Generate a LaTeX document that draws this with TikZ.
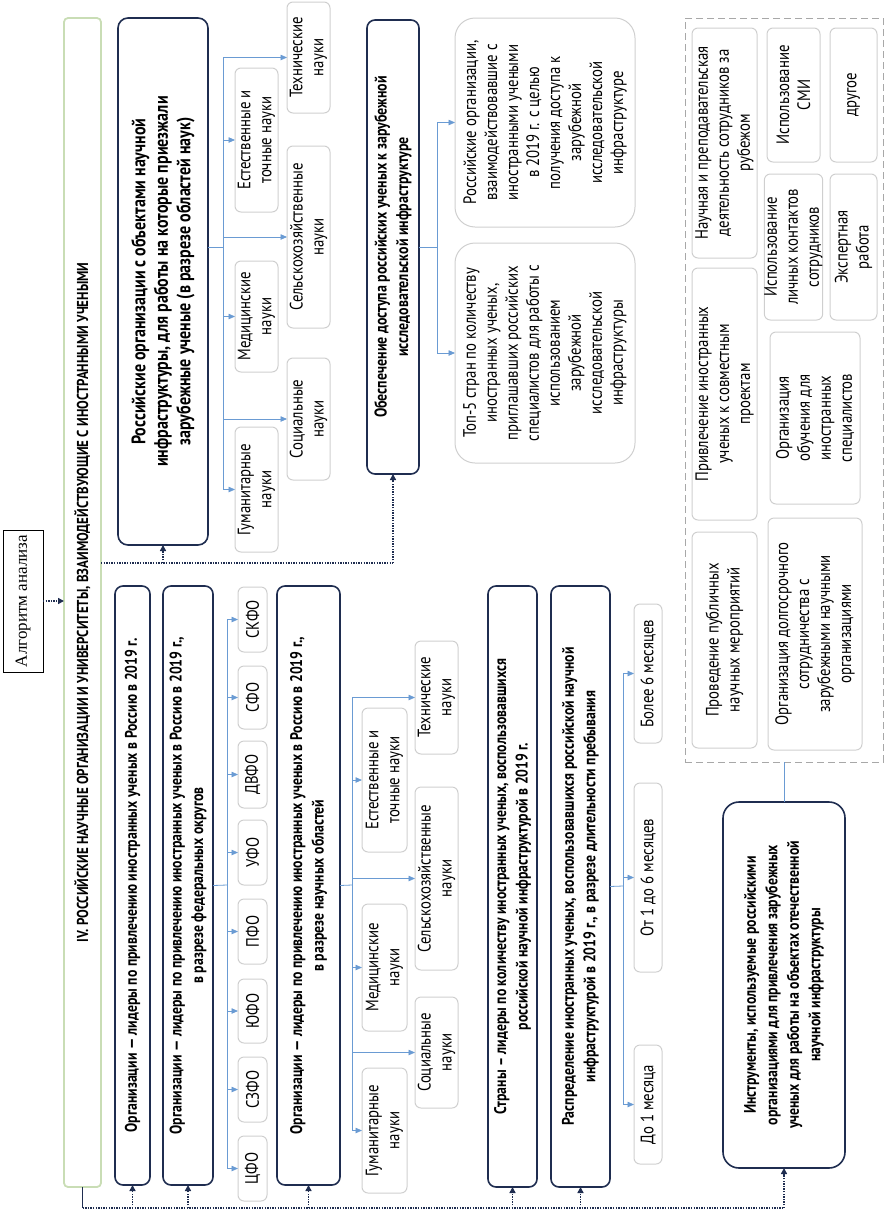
\documentclass[tikz,border=0pt]{standalone}
\usepackage{fontspec}
\setmainfont{PT Sans}[FakeStretch=0.82]
\newfontfamily\algfont{Liberation Serif}
\usetikzlibrary{arrows.meta}
\definecolor{navy}{HTML}{1F2D50}
\definecolor{treeblue}{HTML}{6A9BD3}
\definecolor{boxgray}{HTML}{CFCFCF}
\definecolor{bandgreen}{HTML}{C9DDB5}
\definecolor{dashgray}{HTML}{A8A8A8}
\newcommand\mkbox[7]{%
  \pgfmathsetmacro\cx{(#3+#4)/2}\pgfmathsetmacro\cy{(#5+#6)/2}%
  \pgfmathsetmacro\wx{#4-#3}\pgfmathsetmacro\hy{#6-#5}%
  \node[#2, minimum width=\hy pt, minimum height=\wx pt] (#1) at (\cx,\cy) {#7};}
\begin{document}
\begin{tikzpicture}[x=1pt,y=-1pt,
  every node/.style={inner sep=0pt, outer sep=0pt},
  rbox/.style={rotate=90, align=center, font=\fontsize{18}{21}\selectfont},
  navybox/.style={rbox, draw=navy, line width=1.6pt, rounded corners=8pt, font=\bfseries\fontsize{16.8}{21.5}\selectfont},
  sci/.style={rbox, draw=boxgray, line width=1pt, rounded corners=6pt},
  bigbox/.style={rbox, draw=boxgray, line width=1pt, rounded corners=20pt},
  treeln/.style={draw=treeblue, line width=0.8pt},
  treearr/.style={treeln, -{Triangle[length=6.5pt,width=5.5pt]}, treeblue},
  dotln/.style={draw=navy, line width=1.6pt, dash pattern=on 1.4pt off 1.2pt},
  dotarr/.style={dotln, -{Triangle[length=6pt,width=6pt]}}]
\useasboundingbox (0,0) rectangle (889,1213);

% algorithm box and band
\mkbox{alg}{rbox, draw=black, line width=0.8pt, font=\algfont\fontsize{17}{20}\selectfont}{3}{43}{530}{672}{Алгоритм анализа}
\mkbox{band}{rbox, draw=bandgreen, line width=1.8pt, rounded corners=4pt, font=\bfseries\fontsize{15.8}{20}\selectfont}{64}{101}{18}{1187}{IV. РОССИЙСКИЕ НАУЧНЫЕ ОРГАНИЗАЦИИ И УНИВЕРСИТЕТЫ, ВЗАИМОДЕЙСТВУЮЩИЕ С ИНОСТРАННЫМИ УЧЕНЫМИ}

% top section
\mkbox{A}{navybox, rounded corners=10pt, font=\bfseries\fontsize{19.5}{22.5}\selectfont}{118}{208}{18}{545}{Российские организации с объектами научной\\инфраструктуры, для работы на которые приезжали\\зарубежные ученые (в разрезе областей наук)}
\mkbox{gumA}{sci}{235}{278}{427}{552}{Гуманитарные\\науки}
\mkbox{socA}{sci}{287}{330}{358}{480}{Социальные\\науки}
\mkbox{medA}{sci}{235}{278}{261}{372}{Медицинские\\науки}
\mkbox{selA}{sci}{287}{330}{146}{328}{Сельскохозяйственные\\науки}
\mkbox{estA}{sci}{235}{278}{68}{212}{Естественные и\\точные науки}
\mkbox{tecA}{sci}{287}{330}{2}{113}{Технические\\науки}

\mkbox{obe}{navybox, font=\bfseries\fontsize{17}{21.5}\selectfont}{367}{419}{20}{474}{Обеспечение доступа российских ученых к зарубежной\\исследовательской инфраструктуре}
\mkbox{ro}{bigbox}{455}{635}{18}{227}{Российские организации,\\взаимодействовавшие с\\иностранными учеными\\в 2019 г. с целью\\получения доступа к\\зарубежной\\исследовательской\\инфраструктуре}
\mkbox{top}{bigbox}{455}{635}{243}{463}{Топ-5 стран по количеству\\иностранных ученых,\\приглашавших российских\\специалистов для работы с\\использованием\\зарубежной\\исследовательской\\инфраструктуры}

% dashed group
\node[draw=dashgray, line width=1pt, dash pattern=on 7pt off 4pt, minimum width=198pt, minimum height=744pt] (grp) at (784,390) {};
\mkbox{nau}{sci}{692}{757}{28}{258}{Научная и преподавательская\\деятельность сотрудников за\\рубежом}
\mkbox{pri}{sci}{692}{757}{268}{520}{Привлечение иностранных\\ученых к совместным\\проектам}
\mkbox{pro}{sci}{692}{757}{532}{748}{Проведение публичных\\научных мероприятий}
\mkbox{smi}{sci}{767}{820}{28}{162}{Использование\\СМИ}
\mkbox{dru}{sci}{830}{877}{28}{162}{другое}
\mkbox{lic}{sci}{767}{820}{174}{320}{Использование\\личных контактов\\сотрудников}
\mkbox{eks}{sci}{830}{877}{174}{320}{Экспертная\\работа}
\mkbox{obu}{sci}{770}{860}{332}{504}{Организация\\обучения для\\иностранных\\специалистов}
\mkbox{dol}{sci}{768}{862}{518}{750}{Организация долгосрочного\\сотрудничества с\\зарубежными научными\\организациями}

% bottom section
\mkbox{o1}{navybox}{115}{150}{586}{1185}{Организации — лидеры по привлечению иностранных ученых в Россию в 2019 г.}
\mkbox{o2}{navybox}{163}{213}{586}{1185}{Организации — лидеры по привлечению иностранных ученых в Россию в 2019 г.,\\в разрезе федеральных округов}
\mkbox{f1}{sci}{238}{267}{1136}{1201}{ЦФО}
\mkbox{f2}{sci}{238}{267}{1057}{1122}{СЗФО}
\mkbox{f3}{sci}{238}{267}{979}{1043}{ЮФО}
\mkbox{f4}{sci}{238}{267}{899}{964}{ПФО}
\mkbox{f5}{sci}{238}{267}{820}{885}{УФО}
\mkbox{f6}{sci}{238}{267}{741}{808}{ДВФО}
\mkbox{f7}{sci}{238}{267}{666}{729}{СФО}
\mkbox{f8}{sci}{238}{267}{587}{652}{СКФО}
\mkbox{o3}{navybox}{277}{340}{586}{1185}{Организации — лидеры по привлечению иностранных ученых в Россию в 2019 г.,\\в разрезе научных областей}
\mkbox{gumB}{sci}{362}{407}{1068}{1193}{Гуманитарные\\науки}
\mkbox{medB}{sci}{362}{407}{904}{1031}{Медицинские\\науки}
\mkbox{estB}{sci}{362}{407}{708}{852}{Естественные и\\точные науки}
\mkbox{socB}{sci}{415}{458}{997}{1108}{Социальные\\науки}
\mkbox{selB}{sci}{415}{458}{787}{970}{Сельскохозяйственные\\науки}
\mkbox{tecB}{sci}{415}{458}{641}{754}{Технические\\науки}
\mkbox{str}{navybox}{488}{537}{586}{1187}{Страны – лидеры по количеству иностранных ученых, воспользовавшихся\\российской научной инфраструктурой в 2019 г.}
\mkbox{ras}{navybox}{551}{610}{586}{1187}{Распределение иностранных ученых, воспользовавшихся  российской научной\\инфраструктурой в 2019 г., в разрезе длительности пребывания}
\mkbox{d1}{sci}{634}{662}{1045}{1164}{До 1 месяца}
\mkbox{d2}{sci}{634}{662}{783}{972}{От 1 до 6 месяцев}
\mkbox{d3}{sci}{634}{662}{604}{743}{Более 6 месяцев}
\mkbox{ins}{navybox, rounded corners=16pt}{723}{845}{802}{1168}{Инструменты, используемые российскими\\организациями для привлечения зарубежных\\ученых для работы на объектах отечественной\\научной инфраструктуры}

% coordinates
\coordinate (topY) at (0,563);
\coordinate (botY) at (0,1208);
\coordinate (t1) at (223,247);
\coordinate (t2) at (437,247);
\coordinate (t3) at (227,885);
\coordinate (t4) at (352,885);
\coordinate (t5) at (623,886);

% trees
\draw[treeln] (A.south |- t1) -- (t1);
\draw[treeln] (t1 |- tecA.north) -- (t1 |- gumA.north);
\foreach \b in {gumA,socA,medA,selA,estA,tecA} \draw[treearr] (t1 |- \b.north) -- (\b.north);
\draw[treeln] (obe.south) -- (t2);
\draw[treeln] (t2 |- ro.north) -- (t2 |- top.north);
\foreach \b in {ro,top} \draw[treearr] (t2 |- \b.north) -- (\b.north);
\draw[treeln] (o2.south) -- (t3);
\draw[treeln] (t3 |- f8.north) -- (t3 |- f1.north);
\foreach \b in {f1,f2,f3,f4,f5,f6,f7,f8} \draw[treearr] (t3 |- \b.north) -- (\b.north);
\draw[treeln] (o3.south) -- (t4);
\draw[treeln] (t4 |- tecB.north) -- (t4 |- gumB.north);
\foreach \b in {gumB,socB,medB,selB,estB,tecB} \draw[treearr] (t4 |- \b.north) -- (\b.north);
\draw[treeln] (ras.south) -- (t5);
\draw[treeln] (t5 |- d3.north) -- (t5 |- d1.north);
\foreach \b in {d1,d2,d3} \draw[treearr] (t5 |- \b.north) -- (\b.north);
\draw[treeln] (ins.east) -- (ins.east |- grp.south);

% dotted connectors
\draw[dotarr] (alg.south) -- (alg.south -| band.north);
\draw[dotln] (band.south |- topY) -- (obe.west |- topY);
\draw[dotarr] (A.west |- topY) -- (A.west);
\draw[dotarr] (obe.west |- topY) -- (obe.west);
\draw[navy, line width=1.6pt] (band.west) -- (band.west |- botY);
\draw[dotln] (band.west |- botY) -- (ins.west |- botY);
\foreach \b in {o1,o2,o3,str,ras,ins} \draw[dotarr] (\b.west |- botY) -- (\b.west);
\end{tikzpicture}
\end{document}
